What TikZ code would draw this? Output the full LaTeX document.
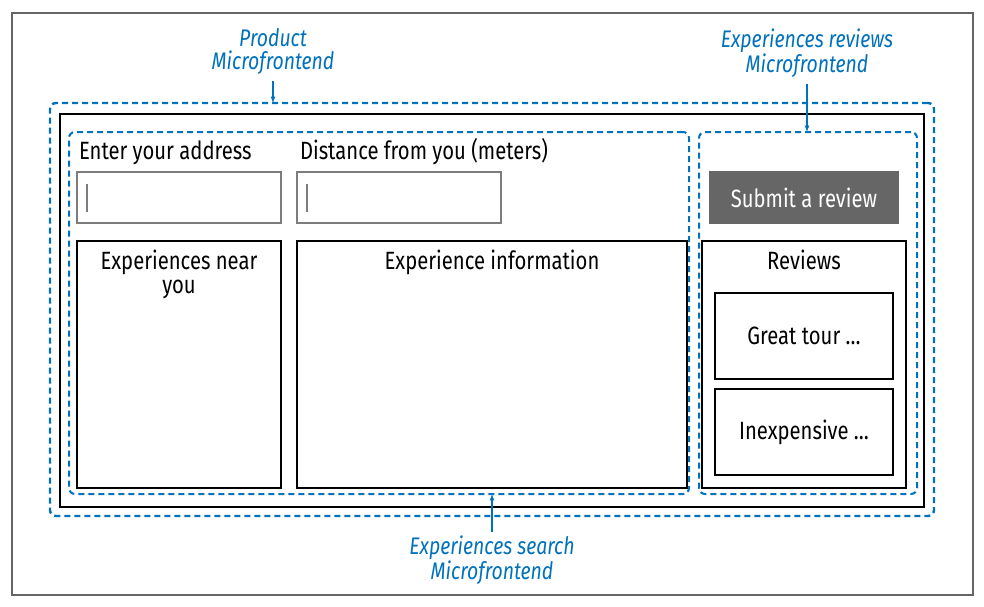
\documentclass[tikz,border=0pt]{standalone}
\usepackage{fontspec}
\setmainfont[FakeStretch=0.81]{Fira Sans}
\usetikzlibrary{positioning, arrows}
\definecolor{mfblue}{RGB}{0,113,188}
\definecolor{btngray}{RGB}{102,102,102}
\definecolor{fieldgray}{RGB}{125,125,125}

\begin{document}
\begin{tikzpicture}
[x=1pt,y=-1pt,
 every node/.style={inner sep=0pt,outer sep=0pt,font=\fontsize{25}{24}\selectfont},
 panel/.style={draw=black,line width=2pt,anchor=north west},
 field/.style={draw=fieldgray,line width=2pt,anchor=north west,
               minimum width=204pt,minimum height=51pt},
 mfbox/.style={draw=mfblue,line width=2.4pt,dash pattern=on 6pt off 4pt,
               rounded corners=6pt,anchor=north west},
 mflabel/.style={text=mfblue,align=center,
                 font=\fontsize{24}{23}\selectfont\itshape},
 pointer/.style={->,>=latex,draw=mfblue,line width=1.2pt}]

\useasboundingbox (0,0) rectangle (984,606);
\node[draw=gray!80!black, line width=1.5pt, anchor=north west,
      minimum width=961pt, minimum height=582pt] (frame) at (12,13) {};

% microfrontend borders
\node[mfbox, minimum width=884pt, minimum height=413pt] (product) at (50,103) {};
\node[panel, line width=2.4pt, minimum width=864pt, minimum height=393pt] (page) at (60,114) {};
\node[mfbox, line width=2pt, minimum width=620pt, minimum height=362pt] (search) at (69,132) {};
\node[mfbox, line width=2pt, minimum width=218pt, minimum height=362pt] (revmf) at (699,132) {};

% search inputs
\node[anchor=base west] (addrlbl) at (79,159) {Enter your address};
\node[anchor=base west] (distlbl) at (300,159) {Distance from you (meters)};
\node[field] (addr) at (77,172) {};
\node[field] (dist) at (297,172) {};
\draw[fieldgray, line width=2pt] ([xshift=10pt]addr.west) ++(0,-14) -- ++(0,28);
\draw[fieldgray, line width=2pt] ([xshift=10pt]dist.west) ++(0,-14) -- ++(0,28);

% result panels
\node[panel, minimum width=204pt, minimum height=247pt] (near) at (77,241) {};
\node[panel, minimum width=390pt, minimum height=247pt] (info) at (297,241) {};
\node[align=center, below=9pt of near.north] (neartxt) {Experiences near\\you};
\node[below=9pt of info.north] (infotxt) {Experience information};

% reviews
\node[anchor=north west, fill=btngray, text=white, minimum width=190pt,
      minimum height=53pt] (submit) at (709,171) {Submit a review};
\node[panel, minimum width=204pt, minimum height=247pt] (reviews) at (702,241) {};
\node[below=9pt of reviews.north] (revtxt) {Reviews};
\node[panel, minimum width=178pt, minimum height=86pt] (great) at (715,293) {Great tour \dots};
\node[panel, minimum width=178pt, minimum height=86pt] (cheap) at (715,389) {Inexpensive \dots};

% callouts
\node[mflabel, anchor=north] (prodlbl) at (273,29) {Product\\Microfrontend};
\node[mflabel, anchor=north] (revlbl) at (807,29) {Experiences reviews\\Microfrontend};
\node[mflabel, anchor=north] (searchlbl) at (492,536) {Experiences search\\Microfrontend};
\draw[pointer, shorten <=6pt] (prodlbl.south) -- (prodlbl.south |- product.north);
\draw[pointer, shorten <=6pt] (revlbl.south) -- (revlbl.south |- revmf.north);
\draw[pointer, shorten <=4pt] (searchlbl.north) -- (searchlbl.north |- search.south);
\end{tikzpicture}
\end{document}
